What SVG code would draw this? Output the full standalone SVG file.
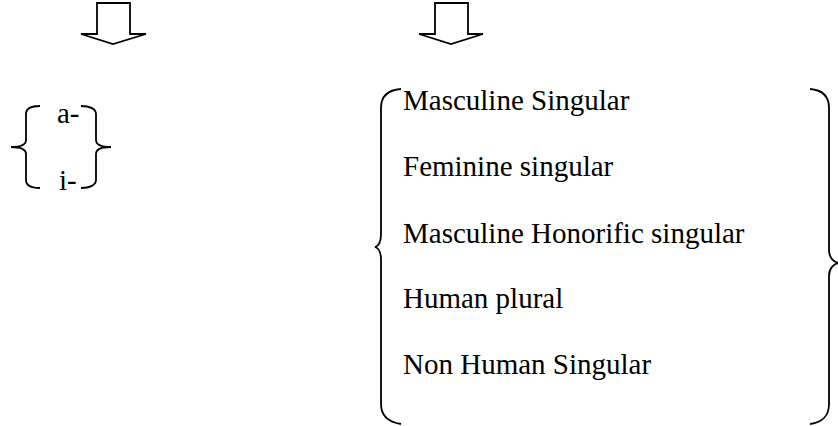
<svg xmlns="http://www.w3.org/2000/svg" width="838" height="426" viewBox="0 0 838 426">
<style>
.t{font-family:'Liberation Serif','Times New Roman','DejaVu Serif',serif;font-size:29px;fill:#000}
.s{fill:none;stroke:#000;stroke-width:1.8}
.a{fill:#fff;stroke:#000;stroke-width:1.8;stroke-linejoin:miter}
</style>
<rect width="838" height="426" fill="#fff"/>
<g id="connectors">
<path class="a" d="M97,3 H130 V34 H146 L113,44 L81,34 H97 Z"/>
<path class="a" d="M435,3 H468 V34 H483 L451,44 L419,34 H435 Z"/>
</g>
<g id="prefix">
<path class="s" d="M40,106 C31,106 26,109 26,114 V140 C26,145 20,147 11,147 C20,147 26,149 26,154 V180 C26,185 31,188 40,188"/>
<path class="s" d="M81,106 C90,106 96,109 96,114 V140 C96,145 102,147 111,147 C102,147 96,149 96,154 V180 C96,185 90,188 81,188"/>
<text class="t" x="57" y="123">a-</text>
<text class="t" x="59" y="190">i-</text>
</g>
<g id="agreement">
<path class="s" d="M401,89 C388,90 381,96 381,108 V234 C381,242 379,246 375,247 C379,248 381,252 381,260 V404 C381,416 388,422 401,424"/>
<path class="s" d="M810,89 C823,90 829,96 829,108 V250 C829,258 834,262 838,263 C834,264 829,268 829,276 V404 C829,416 823,422 810,424"/>
<text class="t" x="403" y="110">Masculine Singular</text>
<text class="t" x="403" y="176">Feminine singular</text>
<text class="t" x="403" y="243">Masculine Honorific singular</text>
<text class="t" x="403" y="308">Human plural</text>
<text class="t" x="403" y="374">Non Human Singular</text>
</g>
</svg>
